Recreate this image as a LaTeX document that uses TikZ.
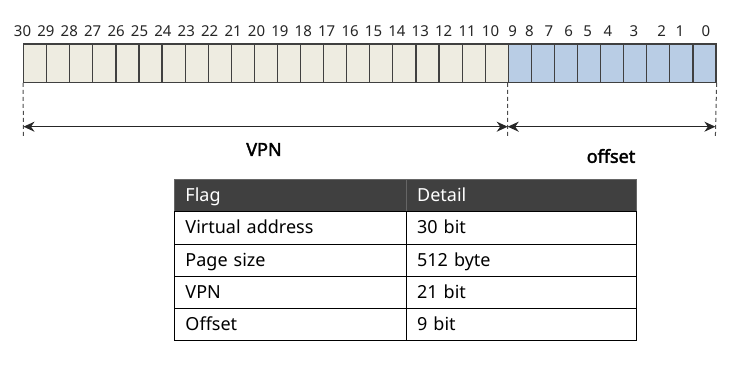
\documentclass[tikz,border=0pt]{standalone}
\usepackage{fontspec}
\setmainfont{Noto Sans}
\newfontfamily\segfont{Noto Sans}[FakeBold=2.2]
\usetikzlibrary{arrows.meta}
\definecolor{beige}{HTML}{EEECE1}
\definecolor{lblue}{HTML}{B9CDE5}
\definecolor{cellline}{HTML}{404040}
\definecolor{hdr}{HTML}{404040}
\tikzset{
  bitcell/.style={draw=cellline, line width=1.2pt, minimum width=23.08pt, minimum height=38.4pt, inner sep=0pt, anchor=north west},
  bitlabel/.style={font=\fontsize{15}{15}\selectfont, inner sep=0pt, text=black!85},
  guide/.style={draw=black!70, dashed, line width=1pt, dash pattern=on 4pt off 3pt},
  span/.style={draw=black!85, line width=1.3pt, {Stealth[length=11pt,width=10pt,inset=3.5pt]}-{Stealth[length=11pt,width=10pt,inset=3.5pt]}},
  seglabel/.style={font=\segfont\fontsize{18}{18}\selectfont, inner sep=0pt},
  tcell/.style={draw=black, line width=0.9pt, minimum height=32.15pt, inner xsep=11pt, inner ysep=0pt, text height=14pt, text depth=2pt, align=left, anchor=north west, font=\fontsize{18}{18}\selectfont},
  tleft/.style={tcell, text width=209.7pt},
  tright/.style={tcell, text width=208.3pt},
  thead/.style={fill=hdr, text=white, draw=black!60}
}
\begin{document}
\begin{tikzpicture}[x=1pt,y=-1pt]
\useasboundingbox (0,0) rectangle (749,375);
% bit cells
\foreach \i in {0,...,29}{
  \pgfmathsetmacro{\xx}{23+\i*23.08}
  \ifnum\i<21
    \node[bitcell, fill=beige] (cell\i) at (\xx,43.3) {};
  \else
    \node[bitcell, fill=lblue] (cell\i) at (\xx,43.3) {};
  \fi
}
% bit numbers
\foreach \n/\xx in {30/22.5,29/45.9,28/69.3,27/92.7,26/116.1,25/139.5,24/162.9,23/186.3,22/209.7,21/233.1,20/256.5,19/279.9,18/303.3,17/326.7,16/350.1,15/373.5,14/396.9,13/420.3,12/443.7,11/467.1,10/490.5,9/512.7,8/529.5,7/549,6/568.7,5/587.7,4/608,3/634,2/661.7,1/680,0/706}{
  \node[bitlabel] (b\n) at (\xx,31) {\n};
}
% guides
\coordinate (gL) at (23.5,137);
\coordinate (gM) at (507.7,137);
\coordinate (gR) at (715.4,137);
\draw[guide] (cell0.south west) -- (gL);
\draw[guide] (cell21.south west) -- (gM);
\draw[guide] (cell29.south east) -- (gR);
\coordinate (aL) at (23.5,126.7);
\coordinate (aM) at (507.7,126.7);
\coordinate (aR) at (715.4,126.7);
\draw[span] (aL) -- (aM);
\draw[span] (aM) -- (aR);
\node[seglabel] (vpn) at (264,149.5) {VPN};
\node[seglabel] (off) at (611,156) {offset};
% table
\node[tleft, thead] (h1) at (174,179.3) {Flag};
\node[tright, thead] (h2) at (405.7,179.3) {Detail};
\node[tleft] (r1a) at (174,211.45) {Virtual address};
\node[tright] (r1b) at (405.7,211.45) {30 bit};
\node[tleft] (r2a) at (174,243.6) {Page size};
\node[tright] (r2b) at (405.7,243.6) {512 byte};
\node[tleft] (r3a) at (174,275.75) {VPN};
\node[tright] (r3b) at (405.7,275.75) {21 bit};
\node[tleft] (r4a) at (174,307.9) {Offset};
\node[tright] (r4b) at (405.7,307.9) {9 bit};
\end{tikzpicture}
\end{document}
